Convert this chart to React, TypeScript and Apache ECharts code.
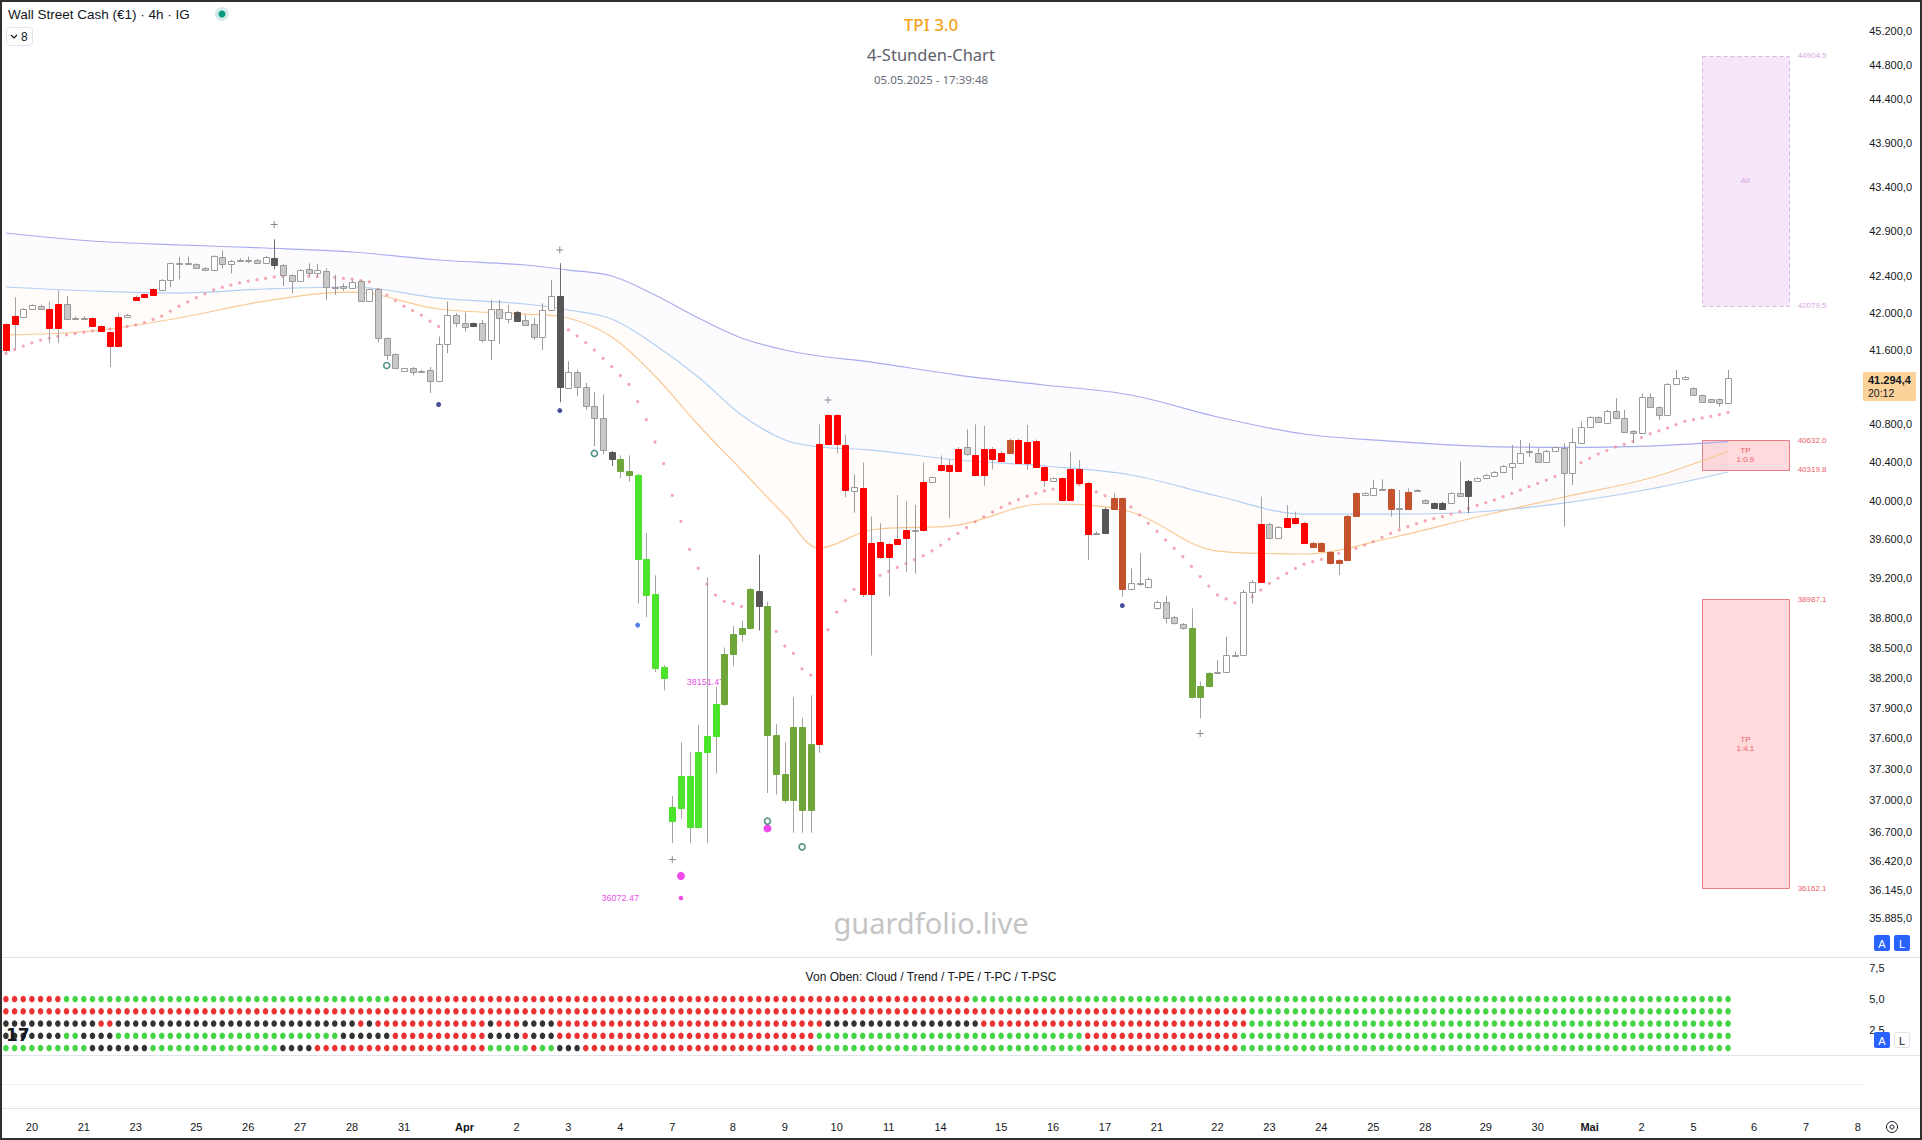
import React, { useEffect, useRef } from "react";
import * as echarts from "echarts";

// ---------------- DATA ----------------
const OPEN = [
  41599, 41877, 41960, 42041, 42081, 42041, 41833, 42099, 41935, 41942,
  41942, 41859, 41797, 41642, 41953, 42142, 42179, 42197, 42252, 42362,
  42546, 42553, 42535, 42498, 42472, 42619, 42539, 42578, 42583, 42583,
  42546, 42608, 42528, 42413, 42355, 42480, 42435, 42465, 42281, 42296,
  42270, 42351, 42135, 42259, 41725, 41552, 41370, 41405, 41363, 41377,
  41267, 41660, 41975, 41888, 41888, 41888, 41707, 42041, 41939, 42011,
  41924, 41877, 41736, 42033, 42186, 41192, 41356, 41196, 41000, 40870,
  40508, 40435, 40308, 40271, 39399, 39044, 38310, 36806, 36930, 37234,
  36740, 37468, 37624, 37939, 38432, 38637, 38693, 39075, 38920, 37638,
  37259, 37000, 37716, 36907, 37546, 40593, 40897, 40581, 40098, 40133,
  39044, 39568, 39414, 39550, 39614, 39694, 39694, 40190, 40314, 40369,
  40308, 40563, 40472, 40264, 40544, 40417, 40501, 40635, 40389, 40628,
  40354, 40207, 40231, 40006, 40326, 40186, 39653, 39668, 39916, 40023,
  39087, 39155, 39114, 38894, 38958, 38803, 38736, 38699, 38004, 38117,
  38250, 38259, 38425, 38425, 39063, 39165, 39757, 39609, 39723, 39822,
  39764, 39565, 39558, 39472, 39386, 39386, 39840, 40059, 40059, 40121,
  40117, 39915, 39909, 40100, 40006, 39971, 39978, 39978, 40076, 40204,
  40207, 40231, 40256, 40301, 40354, 40389, 40510, 40501, 40406, 40522,
  40547, 40284, 40607, 40776, 40876, 40819, 40947, 40865, 40734, 40705,
  41089, 40983, 40901, 41231, 41285, 41185, 41114, 41067, 41067, 41031,
];
const CLOSE = [
  41877, 41967, 42041, 42084, 42041, 41833, 42099, 41931, 41942, 41940,
  41859, 41804, 41642, 41953, 41978, 42179, 42205, 42259, 42362, 42546,
  42550, 42539, 42498, 42472, 42627, 42539, 42575, 42583, 42580, 42546,
  42619, 42528, 42413, 42355, 42472, 42435, 42472, 42281, 42289, 42270,
  42344, 42135, 42259, 41725, 41545, 41398, 41398, 41363, 41370, 41267,
  41660, 41975, 41888, 41851, 41859, 41707, 42041, 41942, 42015, 41917,
  41870, 41736, 42033, 42186, 41199, 41356, 41199, 41000, 40870, 40529,
  40435, 40308, 40271, 39399, 39027, 38296, 38196, 36933, 37234, 36740,
  37472, 37624, 37939, 38432, 38637, 38700, 39087, 38920, 37631, 37259,
  37000, 37716, 36907, 37546, 40593, 40897, 40593, 40108, 40143, 39044,
  39557, 39414, 39550, 39603, 39694, 39700, 40198, 40241, 40369, 40308,
  40544, 40482, 40271, 40544, 40435, 40501, 40635, 40389, 40617, 40354,
  40214, 40231, 40006, 40326, 40186, 39650, 39667, 39916, 40023, 39087,
  39155, 39141, 39196, 38958, 38793, 38743, 38692, 38005, 38117, 38243,
  38258, 38425, 38430, 39063, 39165, 39757, 39609, 39723, 39822, 39764,
  39565, 39524, 39482, 39352, 39352, 39840, 40076, 40076, 40128, 40125,
  39909, 39920, 40093, 40105, 39978, 39920, 39916, 40076, 40048, 40048,
  40231, 40266, 40301, 40361, 40396, 40494, 40514, 40406, 40522, 40557,
  40284, 40617, 40776, 40876, 40829, 40947, 40865, 40723, 40705, 41089,
  40983, 40901, 41231, 41292, 41310, 41114, 41042, 41042, 41031, 41294.4,
];
const LOW = [
  41563, 41599, 41955, 42035, 42035, 41671, 41671, 41920, 41920, 41925,
  41850, 41795, 41413, 41630, 41945, 42135, 42172, 42190, 42245, 42281,
  42369, 42530, 42490, 42465, 42465, 42487, 42435, 42565, 42546, 42540,
  42540, 42480, 42296, 42216, 42348, 42406, 42399, 42142, 42197, 42241,
  42262, 42128, 42128, 41679, 41492, 41390, 41362, 41324, 41350, 41135,
  41258, 41563, 41844, 41797, 41850, 41679, 41492, 41664, 41888, 41910,
  41862, 41707, 41599, 42025, 41036, 41185, 41100, 40958, 40571, 40484,
  40362, 40234, 40197, 38944, 38805, 38254, 38074, 36590, 36828, 36590,
  36730, 36590, 37259, 37920, 38317, 38560, 38680, 38672, 37071, 37057,
  36973, 36690, 36690, 36690, 37461, 40580, 40494, 40034, 39875, 39008,
  38420, 39400, 39015, 39540, 39266, 39248, 39680, 40180, 40305, 39816,
  40300, 40470, 40260, 40154, 40326, 40405, 40490, 40380, 40319, 40340,
  40145, 40200, 39995, 39995, 40175, 39386, 39640, 39660, 39905, 39012,
  39075, 39120, 39100, 38880, 38743, 38730, 38680, 37995, 37798, 38105,
  38240, 38250, 38410, 38415, 38945, 39150, 39600, 39600, 39715, 39755,
  39550, 39515, 39470, 39340, 39233, 39375, 39830, 40050, 40050, 40110,
  39833, 39712, 39900, 40090, 39970, 39910, 39905, 39970, 40040, 39868,
  40200, 40225, 40250, 40295, 40214, 40380, 40459, 40400, 40400, 40515,
  39729, 40162, 40600, 40770, 40820, 40810, 40855, 40715, 40600, 40700,
  40975, 40847, 40895, 41225, 41280, 41105, 41035, 41035, 40989, 41025,
];
const HIGH = [
  41888, 42172, 42050, 42095, 42090, 42124, 42245, 42186, 41960, 41965,
  41950, 41865, 41805, 41997, 41990, 42190, 42212, 42268, 42370, 42555,
  42619, 42619, 42545, 42505, 42635, 42686, 42585, 42600, 42619, 42592,
  42628, 42812, 42535, 42420, 42480, 42546, 42539, 42491, 42417, 42325,
  42355, 42360, 42266, 42266, 41732, 41560, 41405, 41412, 41385, 41413,
  41743, 42124, 41997, 42004, 41895, 41924, 42142, 42142, 42088, 42020,
  41978, 41942, 42106, 42362, 42546, 41474, 41384, 41242, 41142, 41118,
  40520, 40472, 40472, 40280, 39664, 39229, 38324, 37041, 37563, 37468,
  37733, 39210, 38110, 38500, 38717, 38770, 39100, 39441, 38963, 37740,
  37563, 38006, 37802, 38024, 40800, 40910, 40910, 40691, 40271, 40398,
  39834, 39764, 39560, 40058, 39990, 39955, 40398, 40250, 40472, 40435,
  40560, 40747, 40800, 40783, 40560, 40515, 40650, 40650, 40794, 40640,
  40365, 40240, 40240, 40512, 40424, 40195, 39680, 39925, 40076, 40030,
  39300, 39456, 39210, 38970, 39018, 38815, 38745, 38894, 38160, 38255,
  38375, 38608, 38460, 39080, 39180, 40041, 39770, 39735, 39954, 39885,
  39780, 39575, 39570, 39480, 39395, 39850, 40085, 40085, 40214, 40221,
  40125, 40110, 40128, 40120, 40015, 39980, 39985, 40085, 40406, 40215,
  40240, 40275, 40310, 40370, 40582, 40635, 40600, 40547, 40530, 40565,
  40600, 40758, 40829, 40885, 40885, 40955, 41078, 40954, 40740, 41131,
  41131, 40990, 41240, 41382, 41318, 41195, 41120, 41072, 41075, 41382,
];
// candle colour state per bar: R red, G green, O olive, B brown, U hollow, D grey, K dark
const CANDLE_CODES =
  "RRUUDRRDUU" + "RRRRURRRUU" + "UDDDUDUUUD" + "UKDDUDUDUD" + "UDUDDDUDUD" +
  "UUDDKDUDUK" + "DDUUKUDDDD" + "KOOGGGGGGG" + "GGGOOOOKOO" + "OOOORRRRUR" +
  "RRRRRURURR" + "RDRRRRBRRR" + "RURRRRUKBB" + "UUUUDDDOOO" + "UUUUURDURR" +
  "RBBBBBBUUU" + "BUBUDKKUDK" + "UUUUUUUDUU" + "DUUUDUDDDU" + "DDUUUDDDDU";

const LAST_PRICE = 41294.4;
const LAST_COUNTDOWN = "20:12";

// cloud lines (sampled at bar indices)
const CLOUD_IDX = [0, 10, 20, 30, 40, 50, 60, 65, 70, 75, 80, 85, 90, 94, 100, 110, 120, 130, 140, 150, 160, 170, 180, 190, 199];
const CLOUD_UPPER = [42882, 42793, 42749, 42715, 42671, 42582, 42527, 42471, 42405, 42196, 41945, 41727, 41597, 41532, 41467, 41327, 41220, 41113, 40879, 40698, 40624, 40571, 40556, 40571, 40617];
const CLOUD_MID = [42284, 42240, 42218, 42262, 42284, 42163, 42098, 42032, 41934, 41651, 41306, 40900, 40635, 40561, 40529, 40424, 40361, 40267, 40047, 39860, 39860, 39881, 39974, 40120, 40298];
const CLOUD_LOWER = [41760, 41803, 41945, 42130, 42229, 42043, 41988, 41945, 41738, 41317, 40794, 40319, 39850, 39509, 39695, 39746, 39964, 39881, 39478, 39448, 39612, 39829, 40037, 40235, 40519];

// trailing stop dots [bar, price]
const TRAIL: [number, number][] = [
  [0, 41560], [1, 41600], [2, 41640], [3, 41675], [4, 41705], [5, 41725], [6, 41745], [7, 41760], [8, 41775], [9, 41790],
  [10, 41805], [11, 41815], [12, 41825], [13, 41838], [14, 41852], [15, 41870], [16, 41895], [17, 41930], [18, 41965], [19, 42020],
  [20, 42073], [21, 42120], [22, 42168], [23, 42210], [24, 42252], [25, 42280], [26, 42305], [27, 42330], [28, 42350], [29, 42365],
  [30, 42380], [31, 42395], [32, 42400], [33, 42405], [34, 42405], [35, 42400], [36, 42398], [37, 42395], [38, 42390], [39, 42380],
  [40, 42370], [41, 42355], [42, 42340],
  [43, 42257], [44, 42195], [45, 42135], [46, 42073], [47, 42025], [48, 41975], [49, 41910], [50, 41852],
  [65, 41815], [66, 41750], [67, 41677], [68, 41597], [69, 41507], [70, 41417], [71, 41320], [72, 41228], [73, 41043], [74, 40850],
  [75, 40614], [76, 40387], [77, 40054], [78, 39783], [79, 39495], [80, 39302], [81, 39141], [82, 39029], [83, 38966], [84, 38942],
  [85, 38914], [89, 38661], [90, 38515], [91, 38442], [92, 38287], [93, 38225],
  [95, 38679], [96, 38856], [97, 38973], [98, 39087], [99, 39140], [100, 39190], [101, 39230], [102, 39270], [103, 39310], [104, 39350],
  [105, 39390], [106, 39430], [107, 39480], [108, 39540], [109, 39600], [110, 39660], [111, 39720], [112, 39780], [113, 39830], [114, 39880],
  [115, 39930], [116, 39970], [117, 40010], [118, 40045], [119, 40075], [120, 40100], [121, 40120], [122, 40135], [123, 40150], [124, 40165],
  [125, 40150], [126, 40090], [127, 40050], [128, 40010], [129, 39970], [130, 39934], [131, 39850], [132, 39764], [133, 39680], [134, 39592],
  [135, 39505], [136, 39420], [137, 39320], [138, 39216], [139, 39120], [140, 39030], [141, 38990], [142, 38950],
  [143, 38990], [144, 39012], [145, 39080], [146, 39148], [147, 39200], [148, 39250], [149, 39300], [150, 39345], [151, 39370], [152, 39393],
  [153, 39425], [154, 39455], [155, 39480], [156, 39506], [157, 39540], [158, 39575], [159, 39620], [160, 39661], [161, 39695], [162, 39730],
  [163, 39760], [164, 39789], [165, 39812], [166, 39834], [167, 39860], [168, 39886], [169, 39918], [170, 39951], [171, 39978], [172, 40006],
  [173, 40040], [174, 40075], [175, 40110], [176, 40145], [177, 40180], [178, 40214], [179, 40252], [180, 40291], [181, 40343], [182, 40396],
  [183, 40442], [184, 40488], [185, 40523], [186, 40559], [187, 40589], [188, 40619], [189, 40660], [190, 40701], [191, 40731], [192, 40762],
  [193, 40797], [194, 40833], [195, 40851], [196, 40869], [197, 40886], [198, 40904], [199, 40929],
];

// signal markers [bar, price]
const PLUS_MARKS: [number, number][] = [[31, 42977], [64, 42693], [95, 41060], [138, 37648], [77, 36436]];
const MAGENTA_BIG: [number, number][] = [[78, 36280], [88, 36731]];
const MAGENTA_SMALL: [number, number][] = [[78, 36072.47]];
const TEAL_RINGS: [number, number][] = [[44, 41430], [68, 40493], [88, 36800], [92, 36555]];
const NAVY_DOTS: [number, number][] = [[50, 41012], [64, 40947], [129, 38922]];
const BLUE_DOTS: [number, number][] = [[73, 38725]];
const MAGENTA_LABELS: [number, number, string][] = [[78, 36072.47, "36072.47"], [83, 38151.47, "38151.47"]];

// target boxes
const BOX_FROM = 196;
const BOX_TO = 206;
const BOX_TOP = [44904.5, 40632.0, 38987.1];
const BOX_BOTTOM = [42079.5, 40319.8, 36162.1];
const BOX_TEXT = ["Alt", "TP\n1:0.9", "TP\n1:4.1"];
const BOX_TOP_LABEL = ["44904.5", "40632.0", "38987.1"];
const BOX_BOTTOM_LABEL = ["42079.5", "40319.8", "36162.1"];

// indicator rows (run lengths: count, colour) – r red, g green, k black
const ROW_CLOUD: [number, string][] = [[7, "r"], [38, "g"], [67, "r"], [88, "g"]];
const ROW_TREND: [number, string][] = [[144, "r"], [56, "g"]];
const ROW_TPE: [number, string][] = [[11, "k"], [2, "r"], [28, "k"], [1, "r"], [1, "k"], [13, "r"], [1, "k"], [3, "r"], [4, "k"], [31, "r"], [18, "k"], [31, "r"], [56, "g"]];
const ROW_TPC: [number, string][] = [[7, "k"], [2, "g"], [4, "k"], [26, "g"], [6, "k"], [11, "r"], [4, "k"], [1, "r"], [3, "k"], [30, "r"], [31, "g"], [18, "r"], [57, "g"]];
const ROW_TPSC: [number, string][] = [[10, "g"], [7, "k"], [15, "g"], [4, "k"], [20, "r"], [5, "g"], [1, "r"], [2, "g"], [3, "k"], [27, "r"], [31, "g"], [18, "r"], [57, "g"]];

const PRICE_TICKS = [45200, 44800, 44400, 43900, 43400, 42900, 42400, 42000, 41600, 40800, 40400, 40000, 39600, 39200, 38800, 38500, 38200, 37900, 37600, 37300, 37000, 36700, 36420, 36145, 35885];
const IND_TICKS = [2.5, 5, 7.5];

const X_LABEL_IDX = [3, 9, 15, 22, 28, 34, 40, 46, 53, 59, 65, 71, 77, 84, 90, 96, 102, 108, 115, 121, 127, 133, 140, 146, 152, 158, 164, 171, 177, 183, 189, 195, 202, 208, 214];
const X_LABEL_TEXT = ["20", "21", "23", "25", "26", "27", "28", "31", "Apr", "2", "3", "4", "7", "8", "9", "10", "11", "14", "15", "16", "17", "21", "22", "23", "24", "25", "28", "29", "30", "Mai", "2", "5", "6", "7", "8"];

// ---------------- LAYOUT / STYLE ----------------
const N_CATS = 215;
const BAR_W = 8.654;
const GRID_LEFT = 1.6;
const GRID_W = N_CATS * BAR_W;
const PRICE_MIN = 35523;
const PRICE_MAX = 45549;
const FONT = "'Liberation Sans', Arial, sans-serif";
const TFONT = "'Noto Sans', 'Open Sans', sans-serif";

const CANDLE_STYLE: Record<string, { fill: string; stroke: string; wick: string }> = {
  R: { fill: "#ff0000", stroke: "#ff0000", wick: "#a3a3a3" },
  G: { fill: "#4be32b", stroke: "#4be32b", wick: "#a3a3a3" },
  O: { fill: "#6ea63a", stroke: "#6ea63a", wick: "#a3a3a3" },
  B: { fill: "#c4522c", stroke: "#c4522c", wick: "#a3a3a3" },
  U: { fill: "#ffffff", stroke: "#9a9a9a", wick: "#9a9a9a" },
  D: { fill: "#c9c9c9", stroke: "#9a9a9a", wick: "#9a9a9a" },
  K: { fill: "#575757", stroke: "#575757", wick: "#6d6d6d" },
};
const DOT_COLOR: Record<string, string> = { r: "#e60000", g: "#17c917", k: "#000000" };

const L = Math.log;
function fmtDE(v: number, d = 1): string {
  const s = v.toFixed(d);
  const [a, b] = s.split(".");
  return a.replace(/\B(?=(\d{3})+(?!\d))/g, ".") + (b !== undefined ? "," + b : "");
}
function decodeRuns(runs: [number, string][]): string[] {
  const out: string[] = [];
  runs.forEach(([n, c]) => {
    for (let k = 0; k < n; k++) out.push(c);
  });
  return out;
}

function buildOption(): any {
  const cats = Array.from({ length: N_CATS }, (_, i) => String(i));
  const xLabelMap: Record<number, string> = {};
  X_LABEL_IDX.forEach((ix, k) => (xLabelMap[ix] = X_LABEL_TEXT[k]));

  const candleData = OPEN.map((o, i) => [i, L(o), L(CLOSE[i]), L(LOW[i]), L(HIGH[i])]);

  const toPts = (arr: [number, number][]) => arr.map(([i, p]) => [i, L(p)]);

  const rows = [ROW_CLOUD, ROW_TREND, ROW_TPE, ROW_TPC, ROW_TPSC];
  const rowSeries = rows.map((runs, r) => {
    const cols = decodeRuns(runs);
    return {
      type: "scatter",
      xAxisIndex: 1,
      yAxisIndex: 1,
      symbol: "circle",
      symbolSize: [5.6, 6.6],
      silent: true,
      z: 3,
      data: cols.map((c, i) => ({ value: [i, 5 - r], itemStyle: { color: DOT_COLOR[c] } })),
    };
  });

  const markerSeries = (data: [number, number][], extra: any) => ({
    type: "scatter",
    xAxisIndex: 0,
    yAxisIndex: 0,
    silent: true,
    z: 6,
    data: toPts(data),
    ...extra,
  });

  const graphicEls: any[] = [
    // pane separators
    { type: "line", shape: { x1: 0, y1: 957.5, x2: 1922, y2: 957.5 }, style: { stroke: "#e0e3eb", lineWidth: 1 }, silent: true },
    { type: "line", shape: { x1: 0, y1: 1055.5, x2: 1922, y2: 1055.5 }, style: { stroke: "#e0e3eb", lineWidth: 1 }, silent: true },
    { type: "line", shape: { x1: 0, y1: 1084.5, x2: 1862, y2: 1084.5 }, style: { stroke: "#eef0f4", lineWidth: 1 }, silent: true },
    { type: "line", shape: { x1: 0, y1: 1108.5, x2: 1922, y2: 1108.5 }, style: { stroke: "#e0e3eb", lineWidth: 1 }, silent: true },
    // legend
    {
      type: "text", x: 8, y: 14,
      style: { text: "Wall Street Cash (€1) · 4h · IG", fill: "#131722", fontSize: 13.5, fontFamily: FONT, align: "left", verticalAlign: "middle", textAlign: "left", textVerticalAlign: "middle" },
    },
    { type: "circle", shape: { cx: 222, cy: 14, r: 7 }, style: { fill: "rgba(8,153,129,0.18)" } },
    { type: "circle", shape: { cx: 222, cy: 14, r: 3.5 }, style: { fill: "#089981" } },
    { type: "rect", shape: { x: 6.5, y: 27.5, width: 26, height: 18, r: 3 }, style: { fill: "#fff", stroke: "#e0e3eb", lineWidth: 1 } },
    { type: "polyline", shape: { points: [[11, 35], [14, 38], [17, 35]] }, style: { stroke: "#131722", lineWidth: 1.2, fill: "none" } },
    {
      type: "text", x: 21, y: 36.5,
      style: { text: "8", fill: "#131722", fontSize: 12, fontFamily: FONT, align: "left", verticalAlign: "middle", textAlign: "left", textVerticalAlign: "middle" },
    },
    // titles
    {
      type: "text", x: 931, y: 24,
      style: { text: "TPI 3.0", fill: "#f7a21b", fontSize: 17, fontWeight: 500, fontFamily: TFONT, align: "center", verticalAlign: "middle", textAlign: "center", textVerticalAlign: "middle" },
    },
    {
      type: "text", x: 931, y: 54,
      style: { text: "4-Stunden-Chart", fill: "#5d606b", fontSize: 16.5, fontFamily: TFONT, align: "center", verticalAlign: "middle", textAlign: "center", textVerticalAlign: "middle" },
    },
    {
      type: "text", x: 931, y: 79,
      style: { text: "05.05.2025 - 17:39:48", fill: "#6a6d78", fontSize: 11.5, fontFamily: TFONT, align: "center", verticalAlign: "middle", textAlign: "center", textVerticalAlign: "middle" },
    },
    // watermark
    {
      type: "text", x: 931, y: 922, z: -1,
      style: { text: "guardfolio.live", fill: "#c4c4c4", fontSize: 29, fontFamily: TFONT, align: "center", verticalAlign: "middle", textAlign: "center", textVerticalAlign: "middle" },
    },
    // indicator title
    {
      type: "text", x: 931, y: 977,
      style: { text: "Von Oben: Cloud / Trend / T-PE / T-PC / T-PSC", fill: "#131722", fontSize: 12, fontFamily: FONT, align: "center", verticalAlign: "middle", textAlign: "center", textVerticalAlign: "middle" },
    },
    // TV logo
    {
      type: "text", x: 6, y: 1035, z: 10,
      style: { text: "17", fill: "#131722", fontSize: 17, fontWeight: 900, fontFamily: "'DejaVu Sans', sans-serif", align: "left", verticalAlign: "middle", textAlign: "left", textVerticalAlign: "middle" },
    },
    // A / L buttons
    { type: "rect", shape: { x: 1874, y: 935, width: 16, height: 16, r: 2 }, style: { fill: "#2962ff" }, z: 20 },
    { type: "text", x: 1882, y: 943.5, z: 21, style: { text: "A", fill: "#fff", fontSize: 11, fontFamily: FONT, align: "center", verticalAlign: "middle", textAlign: "center", textVerticalAlign: "middle" } },
    { type: "rect", shape: { x: 1894, y: 935, width: 16, height: 16, r: 2 }, style: { fill: "#2962ff" }, z: 20 },
    { type: "text", x: 1902, y: 943.5, z: 21, style: { text: "L", fill: "#fff", fontSize: 11, fontFamily: FONT, align: "center", verticalAlign: "middle", textAlign: "center", textVerticalAlign: "middle" } },
    { type: "rect", shape: { x: 1874, y: 1032, width: 16, height: 16, r: 2 }, style: { fill: "#2962ff" }, z: 20 },
    { type: "text", x: 1882, y: 1040.5, z: 21, style: { text: "A", fill: "#fff", fontSize: 11, fontFamily: FONT, align: "center", verticalAlign: "middle", textAlign: "center", textVerticalAlign: "middle" } },
    { type: "rect", shape: { x: 1894.5, y: 1032.5, width: 15, height: 15, r: 2 }, style: { fill: "#fff", stroke: "#e0e3eb", lineWidth: 1 }, z: 20 },
    { type: "text", x: 1902, y: 1040.5, z: 21, style: { text: "L", fill: "#131722", fontSize: 11, fontFamily: FONT, align: "center", verticalAlign: "middle", textAlign: "center", textVerticalAlign: "middle" } },
    // settings icon bottom right
    { type: "circle", shape: { cx: 1892, cy: 1127, r: 5.5 }, style: { fill: "none", stroke: "#131722", lineWidth: 1 } },
    { type: "circle", shape: { cx: 1892, cy: 1127, r: 2 }, style: { fill: "none", stroke: "#131722", lineWidth: 1 } },
    // outer frame
    { type: "rect", shape: { x: 1, y: 1, width: 1920, height: 1138 }, style: { fill: "none", stroke: "#2f2f2f", lineWidth: 2 }, z: 100, silent: true },
  ];

  return {
    animation: false,
    backgroundColor: "#ffffff",
    textStyle: { fontFamily: FONT },
    grid: [
      { left: GRID_LEFT, top: 1, width: GRID_W, height: 956, outerBoundsMode: "none", containLabel: false },
      { left: GRID_LEFT, top: 957, width: GRID_W, height: 98, outerBoundsMode: "none", containLabel: false },
      { left: GRID_LEFT, top: 1100, width: GRID_W, height: 8, outerBoundsMode: "none", containLabel: false },
    ],
    xAxis: [
      { type: "category", gridIndex: 0, data: cats, boundaryGap: true, show: false },
      { type: "category", gridIndex: 1, data: cats, boundaryGap: true, show: false },
      {
        type: "category", gridIndex: 2, data: cats, boundaryGap: true, position: "bottom",
        axisLine: { show: false }, axisTick: { show: false }, splitLine: { show: false },
        axisLabel: {
          interval: (i: number) => xLabelMap[i] !== undefined,
          formatter: (v: string) => {
            const t = xLabelMap[Number(v)] ?? "";
            return t === "Apr" || t === "Mai" ? "{b|" + t + "}" : t;
          },
          rich: { b: { fontWeight: "bold", fontSize: 11, color: "#131722", fontFamily: FONT } },
          color: "#131722", fontSize: 11, fontFamily: FONT, margin: 13, hideOverlap: false,
        },
      },
    ],
    yAxis: [
      {
        type: "value", gridIndex: 0, position: "right", min: L(PRICE_MIN), max: L(PRICE_MAX), scale: true,
        splitLine: { show: false }, axisLine: { show: false }, axisTick: { show: false },
        axisLabel: {
          customValues: PRICE_TICKS.map(L),
          formatter: (v: number) => fmtDE(Math.exp(v), 1),
          color: "#131722", fontSize: 11, fontFamily: FONT, margin: 7, align: "left",
        },
      },
      {
        type: "value", gridIndex: 1, position: "right", min: 0.43, max: 8.43,
        splitLine: { show: false }, axisLine: { show: false }, axisTick: { show: false },
        axisLabel: {
          customValues: IND_TICKS,
          formatter: (v: number) => fmtDE(v, 1),
          color: "#131722", fontSize: 11, fontFamily: FONT, margin: 7, align: "left",
        },
      },
      { type: "value", gridIndex: 2, show: false, min: 0, max: 1 },
    ],
    series: [
      // cloud: mid line + upper band fill
      {
        type: "line", xAxisIndex: 0, yAxisIndex: 0, stack: "c1", stackStrategy: "all", smooth: 0.35,
        symbol: "none", silent: true, z: 2,
        lineStyle: { color: "#b3cff3", width: 1.2 },
        data: CLOUD_IDX.map((x, k) => [x, L(CLOUD_MID[k])]),
      },
      {
        type: "line", xAxisIndex: 0, yAxisIndex: 0, stack: "c1", stackStrategy: "all", smooth: 0.35,
        symbol: "none", silent: true, z: 2,
        lineStyle: { color: "#a9acee", width: 1.2 },
        areaStyle: { color: "rgba(190,192,245,0.075)" },
        data: CLOUD_IDX.map((x, k) => [x, L(CLOUD_UPPER[k]) - L(CLOUD_MID[k])]),
      },
      // cloud: lower line + lower band fill
      {
        type: "line", xAxisIndex: 0, yAxisIndex: 0, stack: "c2", stackStrategy: "all", smooth: 0.35,
        symbol: "none", silent: true, z: 2,
        lineStyle: { color: "#f9c995", width: 1.2 },
        data: CLOUD_IDX.map((x, k) => [x, L(CLOUD_LOWER[k])]),
      },
      {
        type: "line", xAxisIndex: 0, yAxisIndex: 0, stack: "c2", stackStrategy: "all", smooth: 0.35,
        symbol: "none", silent: true, z: 1,
        lineStyle: { width: 0, opacity: 0 },
        areaStyle: { color: "rgba(255,210,160,0.09)" },
        data: CLOUD_IDX.map((x, k) => [x, L(CLOUD_MID[k]) - L(CLOUD_LOWER[k])]),
      },
      // target boxes
      {
        type: "custom", xAxisIndex: 0, yAxisIndex: 0, silent: true, z: 1,
        data: BOX_TOP.map((t, k) => [k, L(t), L(BOX_BOTTOM[k])]),
        encode: { x: 0, y: [1, 2] },
        renderItem: (params: any, api: any) => {
          const k = params.dataIndex;
          const p1 = api.coord([BOX_FROM, api.value(1)]);
          const p2 = api.coord([BOX_TO, api.value(2)]);
          const alt = k === 0;
          const txtCol = alt ? "#d9a6e3" : "#e8636b";
          return {
            type: "group",
            children: [
              {
                type: "rect",
                shape: { x: Math.round(p1[0]) + 0.5, y: Math.round(p1[1]) + 0.5, width: Math.round(p2[0] - p1[0]), height: Math.round(p2[1] - p1[1]) },
                style: alt
                  ? { fill: "rgba(236,210,246,0.55)", stroke: "#dcb6e6", lineWidth: 1, lineDash: [4, 3] }
                  : { fill: "rgba(255,196,200,0.65)", stroke: "#e57f85", lineWidth: 1 },
              },
              {
                type: "text", x: (p1[0] + p2[0]) / 2, y: (p1[1] + p2[1]) / 2,
                style: { text: BOX_TEXT[k], fill: txtCol, fontSize: 8, fontFamily: FONT, align: "center", verticalAlign: "middle", lineHeight: 9 },
              },
              {
                type: "text", x: p2[0] + 9, y: p1[1],
                style: { text: BOX_TOP_LABEL[k], fill: txtCol, fontSize: 8, fontFamily: FONT, align: "left", verticalAlign: "middle" },
              },
              {
                type: "text", x: p2[0] + 9, y: p2[1],
                style: { text: BOX_BOTTOM_LABEL[k], fill: txtCol, fontSize: 8, fontFamily: FONT, align: "left", verticalAlign: "middle" },
              },
            ],
          };
        },
      },
      // trailing dots
      {
        type: "scatter", xAxisIndex: 0, yAxisIndex: 0, silent: true, z: 3,
        symbol: "circle", symbolSize: 3.2,
        itemStyle: { color: "#f0909c" },
        data: toPts(TRAIL),
      },
      // magenta price labels (under candles)
      {
        type: "scatter", xAxisIndex: 0, yAxisIndex: 0, silent: true, z: 3,
        symbolSize: 0,
        data: MAGENTA_LABELS.map(([i, p, t]) => ({
          value: [i, L(p)],
          label: { show: true, formatter: t, position: "left", distance: i === 78 ? 42 : 0, color: "#e020e0", fontSize: 9, fontFamily: FONT },
        })),
      },
      // candles
      {
        type: "custom", xAxisIndex: 0, yAxisIndex: 0, silent: true, z: 4,
        data: candleData,
        encode: { x: 0, y: [1, 2, 3, 4] },
        renderItem: (params: any, api: any) => {
          const i = api.value(0);
          const pO = api.coord([i, api.value(1)]);
          const pC = api.coord([i, api.value(2)]);
          const pL = api.coord([i, api.value(3)]);
          const pH = api.coord([i, api.value(4)]);
          const st = CANDLE_STYLE[CANDLE_CODES[params.dataIndex]] || CANDLE_STYLE.U;
          const cx = Math.round(pO[0]);
          const top = Math.round(Math.min(pO[1], pC[1]));
          const bot = Math.round(Math.max(pO[1], pC[1]));
          const h = Math.max(1, bot - top);
          return {
            type: "group",
            children: [
              { type: "line", shape: { x1: cx + 0.5, y1: pH[1], x2: cx + 0.5, y2: pL[1] }, style: { stroke: st.wick, lineWidth: 1 } },
              { type: "rect", shape: { x: cx - 2.5, y: top + 0.5, width: 6, height: h }, style: { fill: st.fill, stroke: st.stroke, lineWidth: 1 } },
            ],
          };
        },
      },
      // markers
      markerSeries(PLUS_MARKS, { symbol: "path://M3,0h1v3h3v1h-3v3h-1v-3h-3v-1h3z", symbolSize: 7, itemStyle: { color: "#6b6e78" } }),
      markerSeries(MAGENTA_BIG, { symbol: "circle", symbolSize: 8, itemStyle: { color: "#ee1ee6" } }),
      markerSeries(MAGENTA_SMALL, { symbol: "circle", symbolSize: 4.5, itemStyle: { color: "#ee1ee6" } }),
      markerSeries(TEAL_RINGS, { symbol: "circle", symbolSize: 6, itemStyle: { color: "#ffffff", borderColor: "#2c7a6b", borderWidth: 1.6 } }),
      markerSeries(NAVY_DOTS, { symbol: "circle", symbolSize: 5, itemStyle: { color: "#1a237e" } }),
      markerSeries(BLUE_DOTS, { symbol: "circle", symbolSize: 5, itemStyle: { color: "#2f5fe0" } }),
      // indicator rows
      ...rowSeries,
    ],
    graphic: { elements: graphicEls },
  };
}

export default function App() {
  const ref = useRef<HTMLDivElement>(null);
  useEffect(() => {
    if (!ref.current) return;
    const chart = echarts.init(ref.current, null, { renderer: "svg", width: 1922, height: 1140 });
    const option = buildOption();
    chart.setOption(option);
    const y = chart.convertToPixel({ yAxisIndex: 0 }, L(LAST_PRICE)) as number;
    chart.setOption({
      graphic: {
        elements: [
          ...option.graphic.elements,
          { type: "rect", shape: { x: 1863, y: Math.round(y) - 6, width: 53, height: 29, r: 1 }, style: { fill: "#fbd39a" }, z: 30 },
          {
            type: "text", x: 1868, y: Math.round(y) + 2, z: 31,
            style: { text: fmtDE(LAST_PRICE, 1), fill: "#131722", fontSize: 11, fontWeight: "bold", fontFamily: FONT, align: "left", verticalAlign: "middle", textAlign: "left", textVerticalAlign: "middle" },
          },
          {
            type: "text", x: 1868, y: Math.round(y) + 15, z: 31,
            style: { text: LAST_COUNTDOWN, fill: "#131722", fontSize: 10.5, fontFamily: FONT, align: "left", verticalAlign: "middle", textAlign: "left", textVerticalAlign: "middle" },
          },
        ],
      },
    });
    return () => chart.dispose();
  }, []);
  return <div ref={ref} style={{ position: "absolute", left: 0, top: 0, width: 1922, height: 1140, background: "#fff" }} />;
}
